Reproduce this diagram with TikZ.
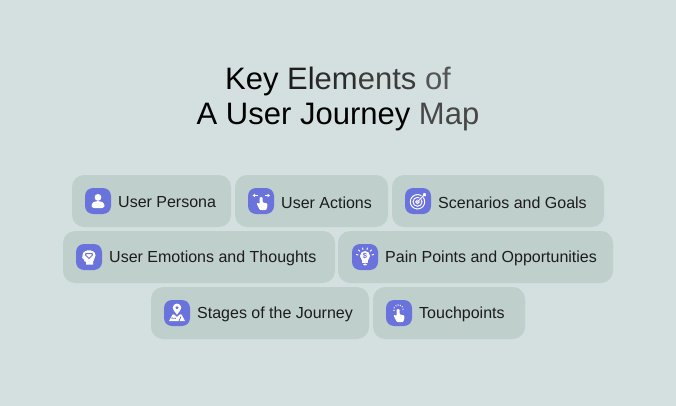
\documentclass[tikz,border=0pt]{standalone}
\usepackage{fontspec}
\setmainfont{Liberation Sans}
\definecolor{bgc}{HTML}{D3E0DF}
\definecolor{pillc}{HTML}{BFCFCC}
\definecolor{iconc}{HTML}{6A72DC}
\definecolor{inkc}{HTML}{1C1C1C}
\newcommand{\handshape}{%
  \fill[white,rounded corners=0.8pt] (-2.4,-4) -- (-2.4,1.6) -- (-4.6,0.2) -- (-5.4,1.2) -- (-2.2,7.5) -- (4.2,7.5) -- (5.4,3.8) -- (5.4,1) -- (0.6,-0.2) -- (0.6,-4) arc (0:-180:1.5) -- cycle;
}
\tikzset{
  x=1pt,y=-1pt,
  pill/.style={fill=pillc,rounded corners=12pt,inner sep=0pt,minimum height=52pt},
  iconbox/.style={fill=iconc,rounded corners=8pt,inner sep=0pt,minimum size=26pt},
  lab/.style={anchor=west,text=inkc,font=\fontsize{16}{18}\selectfont,inner sep=0pt},
  ttl/.style={anchor=base,text=black,font=\fontsize{31}{36}\selectfont,inner sep=0pt},
  iconperson/.pic={
    \fill[white] (0,-3.6) circle (3.4);
    \fill[white,rounded corners=2.5pt] (-6.5,7) -- (-6.5,2.5) -- (-3,0.2) -- (3,0.2) -- (6.5,2.5) -- (6.5,7) -- cycle;
  },
  iconactions/.pic={
    \begin{scope}[shift={(1,1.5)}]\handshape\end{scope}
    \draw[white,line width=0.9pt] (-7.5,-5.5) -- (-3,-5.5) (4,-5.5) -- (8,-5.5);
    \fill[white] (-8.5,-5.5) -- (-6,-7.3) -- (-6,-3.7) -- cycle (9,-5.5) -- (6.5,-7.3) -- (6.5,-3.7) -- cycle;
  },
  icontarget/.pic={
    \draw[white,line width=1pt] (-0.5,0.8) circle (7.2) (-0.5,0.8) circle (4.5) (-0.5,0.8) circle (1.8);
    \draw[iconc,line width=2.4pt] (0,0) -- (7,-7);
    \draw[white,line width=1pt] (-0.5,0.8) -- (6,-6);
    \fill[white] (5,-7.5) -- (7.5,-8) -- (8,-5) -- (5.5,-4.6) -- cycle;
  },
  iconhead/.pic={
    \fill[white] (-6.5,-1.5) .. controls (-6.5,-8.5) and (6.5,-8.5) .. (6.5,-1.5) .. controls (6.5,1.5) and (4.2,2.5) .. (4.2,4.5) -- (4.2,7.5) -- (-3,7.5) -- (-3,4.8) -- (-4.6,4.4) -- (-5,2.6) -- (-6.8,1) -- cycle;
    \draw[iconc,line width=1pt,line join=round] (-3,-3.5) -- (3,-3.5) -- (3.5,-2) -- (0,1.5) -- (-3.5,-2) -- cycle;
  },
  iconbulb/.pic={
    \fill[white] (0,-1) circle (5);
    \fill[white] (-2.6,3) rectangle (2.6,5.8);
    \fill[white,rounded corners=1pt] (-2,6.6) rectangle (2,8.4);
    \draw[white,line width=1pt,line cap=round] (-8.5,-2.5) -- (-7,-2) (8.5,-2.5) -- (7,-2) (-6.5,-7) -- (-5.2,-5.8) (6.5,-7) -- (5.2,-5.8) (-2.4,-9) -- (-2,-7.4) (2.4,-9) -- (2,-7.4);
    \node[inner sep=0pt,text=iconc,font=\bfseries\fontsize{7.5}{8}\selectfont] at (0,-1) {\$};
  },
  iconmap/.pic={
    \fill[white] (0,1.8) .. controls (-2,-1.5) and (-4.3,-3) .. (-4.3,-5.2) arc (180:360:4.3) .. controls (4.3,-3) and (2,-1.5) .. (0,1.8) -- cycle;
    \fill[iconc] (0,-5.2) circle (1.6);
    \fill[white] (-4.4,1.4) -- (-3,1.4) -- (0,4) -- (3,1.4) -- (4.4,1.4) -- (8,8) -- (-8,8) -- cycle;
    \draw[iconc,line width=0.8pt] (-6,5) -- (-1,5.4) (2,8) -- (4,3.5);
  },
  icontouch/.pic={
    \begin{scope}[shift={(0,1.5)}]\handshape\end{scope}
    \fill[white] (-5,-2.6) circle (0.7) (-4.8,-5.2) circle (0.7) (-3,-7.2) circle (0.7) (-0.9,-8) circle (0.7) (1.3,-7.6) circle (0.7) (3.2,-6.2) circle (0.7) (4,-3.8) circle (0.7);
  }
}
\begin{document}
\begin{tikzpicture}
\path[fill=bgc,use as bounding box] (0,0) rectangle (676,406);
% title
\node[ttl] (t1) at (338,89.5) {Key \textcolor[HTML]{1E1E1E}{El}\textcolor[HTML]{2C2C2C}{em}\textcolor[HTML]{3C3C3C}{ents} \textcolor[HTML]{555555}{of}};
\node[ttl] (t2) at (338,125) {A User Journey \textcolor[HTML]{474747}{Map}};
% pills
\node[pill,minimum width=159pt] (p1) at (151.5,201) {};
\node[pill,minimum width=153pt] (p2) at (311.5,201) {};
\node[pill,minimum width=212pt] (p3) at (498,201) {};
\node[pill,minimum width=272pt] (p4) at (199,257) {};
\node[pill,minimum width=275pt] (p5) at (475.5,257) {};
\node[pill,minimum width=218pt] (p6) at (260,313) {};
\node[pill,minimum width=152pt] (p7) at (449,313) {};
% icon boxes
\node[iconbox] (i1) at (98,201) {};
\node[iconbox] (i2) at (261,201) {};
\node[iconbox] (i3) at (418,201) {};
\node[iconbox] (i4) at (89,257) {};
\node[iconbox] (i5) at (365,257) {};
\node[iconbox] (i6) at (177,313) {};
\node[iconbox] (i7) at (399,313) {};
\pic at (i1) {iconperson};
\pic at (i2) {iconactions};
\pic at (i3) {icontarget};
\pic at (i4) {iconhead};
\pic at (i5) {iconbulb};
\pic at (i6) {iconmap};
\pic at (i7) {icontouch};
% labels
\node[lab] (l1) at (118,202.5) {User Persona};
\node[lab] (l2) at (281,202.5) {User Actions};
\node[lab] (l3) at (438,202.5) {Scenarios and Goals};
\node[lab] (l4) at (109,258.5) {User Emotions and Thoughts};
\node[lab] (l5) at (385,258.5) {Pain Points and Opportunities};
\node[lab] (l6) at (197,314.5) {Stages of the Journey};
\node[lab] (l7) at (419,314.5) {Touchpoints};
\end{tikzpicture}
\end{document}
